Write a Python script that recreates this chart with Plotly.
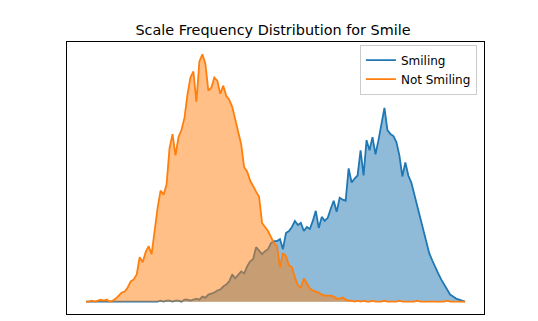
import plotly.graph_objects as go

# bin index along the (hidden) scale axis
scale_bins = list(range(128))

smiling = [
    0, 0, 0, 0, 0, 0, 0, 0, 0, 0, 0, 0, 0, 0, 0, 0, 0, 0, 0, 0, 0, 0, 0, 0, 0,
    1, 0, 1, 1, 0, 1, 1, 0, 2, 2, 1, 2, 3, 2, 5, 4, 7, 8, 9, 11, 12, 15, 17, 20,
    27, 23, 26, 30, 28, 35, 40, 42, 54, 50, 47, 50, 52, 58, 60, 60, 62, 52, 68,
    70, 74, 80, 76, 78, 70, 74, 72, 80, 90, 73, 84, 80, 83, 92, 100, 89, 103,
    101, 100, 132, 118, 122, 125, 150, 125, 160, 150, 163, 146, 160, 178, 192,
    170, 166, 164, 158, 145, 124, 138, 125, 118, 106, 96, 82, 70, 58, 48, 41,
    34, 28, 22, 17, 11, 7, 5, 3, 2, 1, 0,
]

not_smiling = [
    0, 0, 1, 0, 1, 2, 1, 2, 0, 1, 3, 6, 9, 10, 14, 20, 22, 27, 44, 39, 49, 55,
    47, 70, 93, 110, 106, 116, 152, 166, 145, 163, 170, 182, 205, 222, 228, 198,
    238, 245, 236, 209, 212, 222, 219, 206, 214, 204, 200, 193, 180, 169, 156,
    133, 129, 120, 114, 109, 104, 78, 74, 70, 64, 58, 55, 34, 48, 45, 36, 34,
    24, 16, 14, 23, 18, 13, 11, 10, 9, 7, 6, 6, 6, 5, 3, 3, 4, 2, 1, 1, 0, 1, 0,
    1, 0, 0, 1, 0, 0, 0, 1, 0, 0, 0, 0, 1, 0, 0, 0, 0, 0, 1, 0, 0, 0, 0, 0, 0,
    0, 0, 0, 1, 0, 0, 0, 0, 0, 0,
]

series = [("Smiling", smiling, "#1f77b4", "rgba(31,119,180,0.5)"),
          ("Not Smiling", not_smiling, "#ff7f0e", "rgba(255,127,14,0.5)")]

fig = go.Figure()
for name, vals, col, fillcol in series:
    fig.add_trace(go.Scatter(x=scale_bins, y=vals, name=name, mode="lines",
                             line=dict(color=col, width=1.8),
                             fill="tozeroy", fillcolor=fillcol, showlegend=False))
# legend shows plain lines only, like the original
for name, vals, col, fillcol in series:
    fig.add_trace(go.Scatter(x=[None], y=[None], name=name, mode="lines",
                             line=dict(color=col, width=1.8)))

# matplotlib-like 5% margins
xspan = scale_bins[-1] - scale_bins[0]
ymax = max(max(smiling), max(not_smiling))
axis_style = dict(showgrid=False, zeroline=False, showticklabels=False, ticks="",
                  showline=True, mirror=True, linecolor="black", linewidth=1)

# page body adds an 8px offset, so the figure is a bit smaller than the window
fig.update_layout(
    width=530, height=313,
    margin=dict(l=59, r=54, t=34, b=7),
    paper_bgcolor="white", plot_bgcolor="white",
    font=dict(family="DejaVu Sans", color="black"),
    title=dict(text="Scale Frequency Distribution for Smile", x=0.5, xanchor="center",
               y=0.93, yanchor="middle", font=dict(size=14.4)),
    xaxis=dict(range=[scale_bins[0] - 0.05 * xspan, scale_bins[-1] + 0.05 * xspan], **axis_style),
    yaxis=dict(range=[-0.05 * ymax, 1.05 * ymax], **axis_style),
    legend=dict(x=0.983, y=0.99, xanchor="right", yanchor="top",
                bgcolor="white", bordercolor="#cccccc", borderwidth=1,
                font=dict(size=12), tracegroupgap=0),
)

fig.write_html("out.html")
